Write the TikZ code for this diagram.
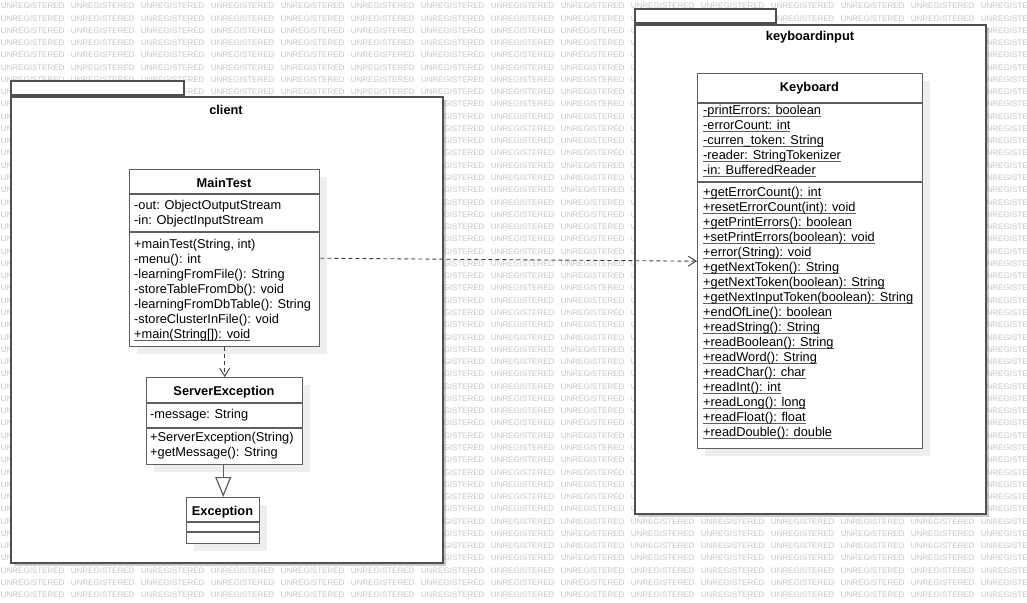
\documentclass[tikz,border=0pt]{standalone}
\usepackage{fontspec}
\setmainfont{Liberation Sans}
\usetikzlibrary{arrows.meta,shadows}

\definecolor{umlline}{RGB}{95,95,95}
\definecolor{pkgline}{RGB}{80,80,80}
\definecolor{wmgray}{RGB}{198,198,198}
\definecolor{shadowgray}{RGB}{238,238,238}

\newcommand{\memberfont}{\fontsize{12.8}{15}\selectfont}
\newcommand{\headfont}{\fontsize{12.8}{15}\selectfont\bfseries}
\newcommand{\wmfont}{\fontsize{8}{9}\selectfont}
\newsavebox{\memberbox}
\newcommand{\stmember}[1]{\sbox{\memberbox}{#1}\rlap{\textcolor{umlline}{\rule[-2.2pt]{\wd\memberbox}{0.9pt}}}\usebox{\memberbox}}

\tikzset{
  watermark/.style={anchor=west,inner sep=0pt,text=wmgray,font=\wmfont},
  pkgbody/.style={draw=pkgline,line width=1.6pt,fill=white,anchor=north west,inner sep=0pt,
    drop shadow={shadow xshift=3pt,shadow yshift=-3pt,fill=black!45,opacity=0.45}},
  pkgtab/.style={draw=pkgline,line width=1.6pt,fill=white,anchor=south west,inner sep=0pt,minimum height=14pt},
  pkgname/.style={anchor=base,inner sep=0pt,font=\headfont},
  classbox/.style={draw=umlline,line width=1.4pt,fill=white,anchor=north west,inner sep=0pt,
    drop shadow={shadow xshift=7pt,shadow yshift=-7pt,fill=shadowgray,opacity=1}},
  classname/.style={anchor=base,inner sep=0pt,font=\headfont},
  members/.style={anchor=north west,inner sep=0pt,align=left,font=\memberfont},
  sep/.style={draw=umlline,line width=1.3pt},
  depend/.style={draw=black!75,line width=0.9pt,dash pattern=on 4pt off 3pt,-{Straight Barb[length=8pt,width=10pt]}},
  inherit/.style={draw=umlline,line width=1.2pt,-{Triangle[length=20pt,width=16pt,fill=white]}}
}

\begin{document}
\begin{tikzpicture}[x=1pt,y=-1pt]
\useasboundingbox (0,0) rectangle (1027,602);
\fill[white] (0,0) rectangle (1027,602);

\foreach \row in {0,...,49}{
  \foreach \col in {0,...,14}{
    \node[watermark] (wm-\row-\col) at ({0.7+70*\col},{6+12.27*\row}) {UNREGISTERED};
  }
}

% packages
\node[pkgtab,minimum width=173pt] (clienttab) at (10,96) {};
\node[pkgbody,minimum width=432pt,minimum height=466pt] (client) at (10,96) {};
\node[pkgname] (clientname) at (226,114) {client};

\node[pkgtab,minimum width=141pt] (kbtab) at (634,24) {};
\node[pkgbody,minimum width=351pt,minimum height=489pt] (kbinput) at (634,24) {};
\node[pkgname] (kbname) at (810,41) {keyboardinput};

% MainTest
\node[classbox,minimum width=190pt,minimum height=177pt] (maintest) at (129,169) {};
\node[classname] (maintestname) at (224,187) {MainTest};
\draw[sep] (maintest.west |- 0,194) -- (maintest.east |- 0,194);
\draw[sep] (maintest.west |- 0,232) -- (maintest.east |- 0,232);
\node[members] (maintestattr) at (134,198.5) {\strut-out: ObjectOutputStream\\-in: ObjectInputStream};
\node[members] (maintestops) at (134,237.5) {\strut+mainTest(String, int)\\-menu(): int\\-learningFromFile(): String\\-storeTableFromDb(): void\\-learningFromDbTable(): String\\-storeClusterInFile(): void\\\stmember{+main(String[]): void}};

% ServerException
\node[classbox,minimum width=156pt,minimum height=87pt] (servexc) at (146,377) {};
\node[classname] (servexcname) at (224,395) {ServerException};
\draw[sep] (servexc.west |- 0,403) -- (servexc.east |- 0,403);
\draw[sep] (servexc.west |- 0,428) -- (servexc.east |- 0,428);
\node[members] (servexcattr) at (150,407.5) {\strut-message: String};
\node[members] (servexcops) at (150,431) {\strut+ServerException(String)\\+getMessage(): String};

% Exception
\node[classbox,minimum width=73pt,minimum height=46pt] (exception) at (186,497) {};
\node[classname] (exceptionname) at (222.5,515) {Exception};
\draw[sep] (exception.west |- 0,522) -- (exception.east |- 0,522);
\draw[sep] (exception.west |- 0,532) -- (exception.east |- 0,532);

% Keyboard
\node[classbox,minimum width=225pt,minimum height=375pt] (keyboard) at (697,73) {};
\node[classname] (keyboardname) at (809.5,91) {Keyboard};
\draw[sep] (keyboard.west |- 0,103) -- (keyboard.east |- 0,103);
\draw[sep] (keyboard.west |- 0,182) -- (keyboard.east |- 0,182);
\node[members] (keyboardattr) at (703,104) {\strut\stmember{-printErrors: boolean}\\\stmember{-errorCount: int}\\\stmember{-curren\_token: String}\\\stmember{-reader: StringTokenizer}\\\stmember{-in: BufferedReader}};
\node[members] (keyboardops) at (703,185.5) {\strut\stmember{+getErrorCount(): int}\\\stmember{+resetErrorCount(int): void}\\\stmember{+getPrintErrors(): boolean}\\\stmember{+setPrintErrors(boolean): void}\\\stmember{+error(String): void}\\\stmember{+getNextToken(): String}\\\stmember{+getNextToken(boolean): String}\\\stmember{+getNextInputToken(boolean): String}\\\stmember{+endOfLine(): boolean}\\\stmember{+readString(): String}\\\stmember{+readBoolean(): String}\\\stmember{+readWord(): String}\\\stmember{+readChar(): char}\\\stmember{+readInt(): int}\\\stmember{+readLong(): long}\\\stmember{+readFloat(): float}\\\stmember{+readDouble(): double}};

% relations
\draw[depend] (maintest.east) -- (keyboard.west);
\draw[depend] (maintest.south) -- (servexc.north);
\draw[inherit] (servexc.south -| exception.north) -- (exception.north);
\end{tikzpicture}
\end{document}
